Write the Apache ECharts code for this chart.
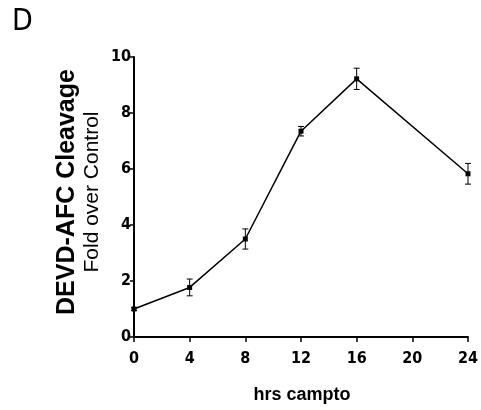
<!DOCTYPE html>
<html><head><meta charset="utf-8">
<script src="https://cdn.jsdelivr.net/npm/echarts@6/dist/echarts.min.js"></script>
<style>html,body{margin:0;padding:0;background:#fff}#c{width:481px;height:410px}</style>
</head><body><div id="c"></div>
<script>
var hours = [0, 4, 8, 12, 16, 24];
var cleavage = [1.0, 1.77, 3.5, 7.35, 9.22, 5.83];
var errors = [0.05, 0.3, 0.36, 0.17, 0.38, 0.37];
var xTicks = [0, 4, 8, 12, 16, 20, 24];
var yTicks = [0, 2, 4, 6, 8, 10];

var lineData = hours.map(function(h, i){ return [h, cleavage[i]]; });
var errData = hours.map(function(h, i){ return [h, cleavage[i] - errors[i], cleavage[i] + errors[i]]; });

var narrow = '"DejaVu Sans Condensed", "Liberation Sans Narrow", "Liberation Sans", Arial, sans-serif';
var chart = echarts.init(document.getElementById('c'), null, {renderer: 'canvas'});
chart.setOption({
  animation: false,
  backgroundColor: '#fff',
  grid: {left: 134, right: 11, top: 57, bottom: 73},
  xAxis: {
    type: 'value', min: 0, max: 24, interval: 4,
    axisLine: {lineStyle: {color: '#000', width: 2}},
    axisTick: {show: true, length: 5, lineStyle: {color: '#000', width: 1.5}},
    axisLabel: {color: '#000', fontFamily: narrow, fontWeight: 'bold', fontSize: 16, margin: 14,
      formatter: function(v){ return xTicks.indexOf(v) >= 0 ? String(v) : ''; }},
    splitLine: {show: false}
  },
  yAxis: {
    type: 'value', min: 0, max: 10, interval: 2,
    axisLine: {show: true, lineStyle: {color: '#000', width: 2}},
    axisTick: {show: true, length: 4, lineStyle: {color: '#000', width: 1.5}},
    axisLabel: {color: '#000', fontFamily: narrow, fontWeight: 'bold', fontSize: 16, margin: 3,
      formatter: function(v){ return yTicks.indexOf(v) >= 0 ? String(v) : ''; }},
    splitLine: {show: false}
  },
  graphic: [
    {type: 'text', x: 12, y: 7, style: {text: 'D', fill: '#000', font: '30px "DejaVu Sans Condensed", "Liberation Sans", sans-serif'}},
    {type: 'text', x: 67, y: 192, rotation: Math.PI/2,
      style: {text: 'DEVD-AFC Cleavage', fill: '#000', font: 'bold 25px "Liberation Sans", Arial, sans-serif', align: 'center', verticalAlign: 'middle'}},
    {type: 'text', x: 92, y: 192, rotation: Math.PI/2,
      style: {text: 'Fold over Control', fill: '#000', font: '21px "Liberation Sans", Arial, sans-serif', align: 'center', verticalAlign: 'middle'}},
    {type: 'text', x: 302, y: 395,
      style: {text: 'hrs campto', fill: '#000', font: 'bold 18px "Liberation Sans", Arial, sans-serif', align: 'center', verticalAlign: 'middle'}}
  ],
  series: [
    {
      type: 'line', data: lineData, symbol: 'rect', symbolSize: 5,
      lineStyle: {color: '#000', width: 1.5}, itemStyle: {color: '#000'}, z: 3
    },
    {
      type: 'custom', data: errData, z: 2,
      renderItem: function(params, api){
        var x = api.value(0);
        var lo = api.coord([x, api.value(1)]);
        var hi = api.coord([x, api.value(2)]);
        var w = 3;
        return {type: 'group', children: [
          {type: 'line', shape: {x1: lo[0], y1: lo[1], x2: hi[0], y2: hi[1]}, style: {stroke: '#000', lineWidth: 1}},
          {type: 'line', shape: {x1: hi[0]-w, y1: hi[1], x2: hi[0]+w, y2: hi[1]}, style: {stroke: '#000', lineWidth: 1}},
          {type: 'line', shape: {x1: lo[0]-w, y1: lo[1], x2: lo[0]+w, y2: lo[1]}, style: {stroke: '#000', lineWidth: 1}}
        ]};
      }
    }
  ]
});
</script></body></html>
